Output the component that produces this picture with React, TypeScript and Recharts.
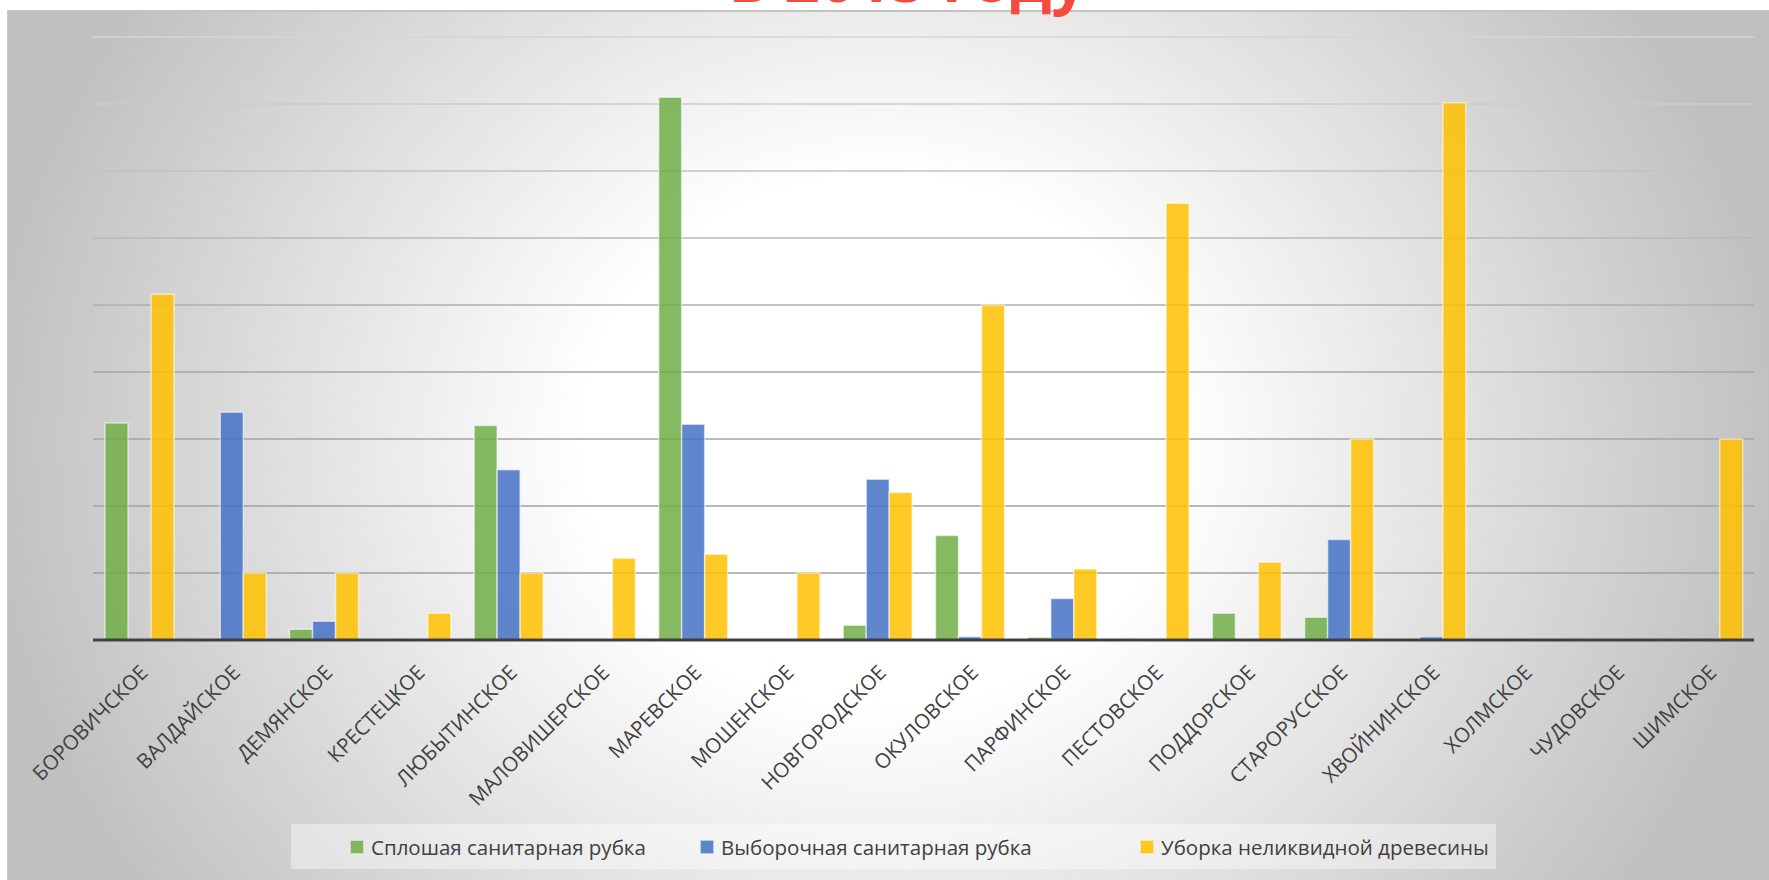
import React from "react";
import { BarChart, Bar, XAxis, YAxis, CartesianGrid } from "recharts";

const categories = [
  "БОРОВИЧСКОЕ", "ВАЛДАЙСКОЕ", "ДЕМЯНСКОЕ", "КРЕСТЕЦКОЕ", "ЛЮБЫТИНСКОЕ",
  "МАЛОВИШЕРСКОЕ", "МАРЕВСКОЕ", "МОШЕНСКОЕ", "НОВГОРОДСКОЕ", "ОКУЛОВСКОЕ",
  "ПАРФИНСКОЕ", "ПЕСТОВСКОЕ", "ПОДДОРСКОЕ", "СТАРОРУССКОЕ", "ХВОЙНИНСКОЕ",
  "ХОЛМСКОЕ", "ЧУДОВСКОЕ", "ШИМСКОЕ",
];
const sploshnaya = [162, 0, 8, 0, 160, 0, 405, 0, 11, 78, 2, 0, 20, 17, 0, 0, 0, 0];
const vyborochnaya = [0, 170, 14, 0, 127, 0, 161, 0, 120, 2.5, 31, 0, 0, 75, 2.5, 0, 0, 0];
const uborka = [258, 50, 50, 20, 50, 61, 64, 50, 110, 250, 53, 326, 58, 150, 401, 0, 0, 150];
const seriesNames = [
  "Сплошая санитарная рубка",
  "Выборочная санитарная рубка",
  "Уборка неликвидной древесины",
];
const seriesColors = ["#70AD47", "#4472C4", "#FFC000"];
const yTicks = [0, 50, 100, 150, 200, 250, 300, 350, 400, 450];
const titleText = "в 2015 году";

const data = categories.map((name, i) => ({
  name,
  s1: sploshnaya[i],
  s2: vyborochnaya[i],
  s3: uborka[i],
}));

const FONT = "'Open Sans', 'DejaVu Sans', sans-serif";

const Tick = (props: any) => {
  const { x, y, payload } = props;
  const px = x + 10;
  const py = y + 34;
  return (
    <text
      x={px}
      y={py}
      transform={`rotate(-45, ${px}, ${py})`}
      textAnchor="end"
      fill="#404040"
      fontSize={20.5}
      fontFamily={FONT}
    >
      {payload.value}
    </text>
  );
};

const legendLefts = [350, 700, 1140];

export default function App() {
  return (
    <div
      style={{
        position: "absolute",
        left: 0,
        top: 0,
        width: 1769,
        height: 880,
        overflow: "hidden",
        background: "#ffffff",
        fontFamily: FONT,
      }}
    >
      <div
        style={{
          position: "absolute",
          left: 7,
          top: 10,
          width: 1780,
          height: 900,
          borderTop: "2px solid #c4c4c4",
          borderLeft: "1px solid #c8c8c8",
          background:
            "radial-gradient(ellipse 900px 800px at 873px 430px, #ffffff 0%, #ffffff 33%, #c0c0c0 100%)",
        }}
      />
      <div style={{ position: "absolute", left: 0, top: 0 }}>
        <BarChart
          width={1769}
          height={880}
          data={data}
          margin={{ top: 37, right: 15, left: 93, bottom: 0 }}
          barSize={23}
          barGap={0}
        >
          <defs>
            <linearGradient id="gridGrad" gradientUnits="userSpaceOnUse" x1="0" y1="30" x2="0" y2="640">
              <stop offset="0%" stopColor="#d6d6d6" />
              <stop offset="30%" stopColor="#bcbcbc" />
              <stop offset="55%" stopColor="#a6a6a6" />
              <stop offset="100%" stopColor="#9e9e9e" />
            </linearGradient>
          </defs>
          <CartesianGrid
            vertical={false}
            stroke="url(#gridGrad)"
            strokeWidth={1.6}
          />
          <YAxis hide domain={[0, 450]} ticks={yTicks} />
          <XAxis
            dataKey="name"
            height={240}
            interval={0}
            tickLine={false}
            tickSize={0}
            tickMargin={0}
            axisLine={{ stroke: "#404040", strokeWidth: 3 }}
            tick={<Tick />}
          />
          {["s1", "s2", "s3"].map((k, i) => (
            <Bar
              key={k}
              dataKey={k}
              name={seriesNames[i]}
              fill={seriesColors[i]}
              fillOpacity={0.85}
              stroke="rgba(255,255,255,0.55)"
              strokeWidth={1.5}
              isAnimationActive={false}
            />
          ))}
        </BarChart>
      </div>
      <svg
        width={1769}
        height={40}
        style={{ position: "absolute", left: 0, top: 0, overflow: "visible" }}
      >
        <text
          x={908}
          y={2}
          textAnchor="middle"
          fill="#F44B3F"
          fontSize={62}
          fontWeight={700}
          fontFamily={FONT}
        >
          {titleText}
        </text>
      </svg>
      <div
        style={{
          position: "absolute",
          left: 291,
          top: 824,
          width: 1205,
          height: 45,
          background: "rgba(255,255,255,0.4)",
        }}
      >
        {seriesNames.map((n, i) => (
          <div
            key={n}
            style={{
              position: "absolute",
              left: legendLefts[i] - 291,
              top: 0,
              height: 45,
              display: "flex",
              alignItems: "center",
              whiteSpace: "nowrap",
              color: "#404040",
              fontSize: 20.5,
            }}
          >
            <span
              style={{
                display: "inline-block",
                width: 12,
                height: 12,
                background: seriesColors[i],
                opacity: 0.85,
                border: "1px solid rgba(255,255,255,0.6)",
                marginRight: 7,
              }}
            />
            {n}
          </div>
        ))}
      </div>
    </div>
  );
}
